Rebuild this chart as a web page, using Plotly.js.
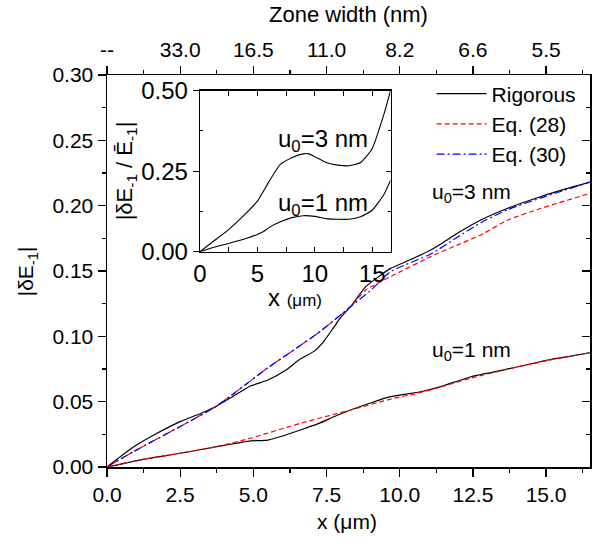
<!DOCTYPE html>
<html>
<head>
<meta charset="utf-8">
<script src="https://cdn.plot.ly/plotly-3.0.1.min.js"></script>
<style>html,body{margin:0;padding:0;background:#fff;}#plot{width:601px;height:546px;}</style>
</head>
<body>
<div id="plot"></div>
<script>
// ---- Main panel data (x in µm, |δE-1|) ----
const rig3X = [0, 0.9, 1.6, 2.5, 3.2, 3.75, 4.3, 4.9, 5.5, 6.1, 6.6, 7.07, 7.4, 7.75, 8.0, 8.32, 8.84, 9.69, 10.3, 11.06, 11.5, 11.98, 12.77, 13.69, 14.83, 15.7, 16.5];
const rig3Y = [0, 0.0153, 0.0245, 0.0347, 0.041, 0.0467, 0.054, 0.062, 0.0666, 0.074, 0.0826, 0.0885, 0.096, 0.107, 0.115, 0.1227, 0.138, 0.152, 0.158, 0.166, 0.172, 0.179, 0.189, 0.198, 0.207, 0.213, 0.218];
const eq30_3X = [0, 0.9, 2.5, 3.75, 5.47, 7.18, 8.32, 9.0, 9.69, 11.06, 11.98, 12.77, 13.69, 14.83, 16.5];
const eq30_3Y = [0, 0.0117, 0.031, 0.0467, 0.0755, 0.102, 0.1227, 0.135, 0.1495, 0.163, 0.176, 0.187, 0.197, 0.206, 0.218];
const eq28_3X = [0, 0.9, 2.5, 3.75, 5.47, 7.18, 8.32, 8.84, 9.69, 11.06, 11.98, 12.77, 13.69, 14.83, 16.5];
const eq28_3Y = [0, 0.0117, 0.031, 0.0467, 0.0755, 0.102, 0.1227, 0.1355, 0.1457, 0.161, 0.170, 0.1776, 0.189, 0.198, 0.2094];
const rig1X = [0, 1.24, 2.5, 3.75, 4.5, 4.9, 5.2, 5.5, 6.0, 6.6, 7.2, 7.75, 8.32, 9.0, 9.69, 10.72, 11.4, 12.43, 13.8, 15.06, 16.26, 16.5];
const rig1Y = [0, 0.0059, 0.0105, 0.0156, 0.0185, 0.0200, 0.0202, 0.0206, 0.0237, 0.0283, 0.033, 0.0385, 0.0436, 0.049, 0.0538, 0.0576, 0.0615, 0.0691, 0.0755, 0.0819, 0.0865, 0.0875];
const eq28_1X = [0, 1.24, 2.5, 3.75, 4.9, 6.6, 8.32, 9.69, 10.72, 12.43, 13.8, 15.06, 16.5];
const eq28_1Y = [0, 0.0059, 0.0105, 0.0156, 0.022, 0.0334, 0.0436, 0.052, 0.057, 0.068, 0.0755, 0.0815, 0.0875];

// ---- Inset data (|δE-1 / Ē-1|) ----
const in3X = [0, 1, 2.5, 4, 5, 6, 7, 8, 9, 9.5, 10, 11, 12, 13, 14, 15, 16, 16.6];
const in3Y = [0, 0.028, 0.069, 0.119, 0.157, 0.217, 0.271, 0.292, 0.304, 0.304, 0.295, 0.277, 0.269, 0.267, 0.277, 0.32, 0.424, 0.5];
const in1X = [0, 1, 2.5, 4, 5, 5.5, 6, 7, 8, 9, 10, 11, 12, 13, 14, 15, 16, 16.6];
const in1Y = [0, 0.012, 0.026, 0.041, 0.054, 0.062, 0.075, 0.093, 0.106, 0.112, 0.110, 0.103, 0.101, 0.101, 0.109, 0.129, 0.176, 0.222];

// ---- Tick labels ----
const mainXTicks = [0, 2.5, 5, 7.5, 10, 12.5, 15];
const mainXTickText = ['0.0', '2.5', '5.0', '7.5', '10.0', '12.5', '15.0'];
const zoneTickText = ['--', '33.0', '16.5', '11.0', '8.2', '6.6', '5.5'];
const mainYTicks = [0, 0.05, 0.10, 0.15, 0.20, 0.25, 0.30];
const mainYTickText = ['0.00', '0.05', '0.10', '0.15', '0.20', '0.25', '0.30'];
const insetXTicks = [0, 5, 10, 15];
const insetXTickText = ['0', '5', '10', '15'];
const insetYTicks = [0, 0.25, 0.5];
const insetYTickText = ['0.00', '0.25', '0.50'];

const FONT = 'Liberation Sans, Arial, sans-serif';
const RED_DASH = '5px,3px';
const BLUE_DASHDOT = '8px,3px,2px,3px';
const SM = 0.5;

const traces = [
  {x: rig3X, y: rig3Y, mode: 'lines', name: 'Rigorous', line: {color: 'black', width: 1.2, shape: 'spline', smoothing: SM}, hoverinfo: 'skip'},
  {x: eq28_3X, y: eq28_3Y, mode: 'lines', name: 'Eq. (28)', line: {color: '#ff0000', width: 1.2, dash: RED_DASH, shape: 'spline', smoothing: SM}, hoverinfo: 'skip'},
  {x: eq30_3X, y: eq30_3Y, mode: 'lines', name: 'Eq. (30)', line: {color: '#0000ff', width: 1.2, dash: BLUE_DASHDOT, shape: 'spline', smoothing: SM}, hoverinfo: 'skip'},
  {x: rig1X, y: rig1Y, mode: 'lines', showlegend: false, line: {color: 'black', width: 1.2, shape: 'spline', smoothing: SM}, hoverinfo: 'skip'},
  {x: eq28_1X, y: eq28_1Y, mode: 'lines', showlegend: false, line: {color: '#ff0000', width: 1.2, dash: RED_DASH, shape: 'spline', smoothing: SM}, hoverinfo: 'skip'},
  {x: in3X, y: in3Y, xaxis: 'x2', yaxis: 'y2', mode: 'lines', showlegend: false, line: {color: 'black', width: 1.1, shape: 'spline', smoothing: SM}, hoverinfo: 'skip'},
  {x: in1X, y: in1Y, xaxis: 'x2', yaxis: 'y2', mode: 'lines', showlegend: false, line: {color: 'black', width: 1.1, shape: 'spline', smoothing: SM}, hoverinfo: 'skip'},
  {x: [null], y: [null], xaxis: 'x3', yaxis: 'y', mode: 'lines', showlegend: false, hoverinfo: 'skip'},
  {x: [null], y: [null], xaxis: 'x', yaxis: 'y3', mode: 'lines', showlegend: false, hoverinfo: 'skip'},
  {x: [null], y: [null], xaxis: 'x2', yaxis: 'y4', mode: 'lines', showlegend: false, hoverinfo: 'skip'}
];

const axFont = {family: FONT, size: 21, color: 'black'};
const inFont = {family: FONT, size: 24, color: 'black'};

const layout = {
  width: 601, height: 546,
  margin: {l: 107, r: 11, t: 75, b: 79},
  paper_bgcolor: 'white', plot_bgcolor: 'white',
  font: {family: FONT, size: 21, color: 'black'},
  showlegend: true,
  legend: {x: 0.672, y: 1.004, xanchor: 'left', yanchor: 'top', bgcolor: 'rgba(0,0,0,0)', font: {family: FONT, size: 21, color: 'black'}, tracegroupgap: 0, itemwidth: 50},
  xaxis: {
    range: [0, 16.5], showgrid: false, zeroline: false, showline: true, linecolor: 'black', linewidth: 1.5,
    tickmode: 'array', tickvals: mainXTicks, ticktext: mainXTickText,
    ticks: 'outside', ticklen: 8, tickwidth: 1.2, tickcolor: 'black', tickfont: axFont,
    minor: {tickmode: 'linear', tick0: 1.25, dtick: 2.5, ticks: 'outside', ticklen: 4, tickwidth: 1.2, tickcolor: 'black', showgrid: false},
    fixedrange: true
  },
  yaxis: {
    range: [0, 0.30], showgrid: false, zeroline: false, showline: true, linecolor: 'black', linewidth: 1.5,
    tickmode: 'array', tickvals: mainYTicks, ticktext: mainYTickText,
    ticks: 'outside', ticklen: 8, tickwidth: 1.2, tickcolor: 'black', tickfont: axFont,
    minor: {tickmode: 'linear', tick0: 0.025, dtick: 0.05, ticks: 'outside', ticklen: 4, tickwidth: 1.2, tickcolor: 'black', showgrid: false},
    fixedrange: true
  },
  xaxis3: {
    overlaying: 'x', side: 'top', anchor: 'y', range: [0, 16.5], showgrid: false, zeroline: false,
    showline: true, linecolor: 'black', linewidth: 1.5,
    tickmode: 'array', tickvals: mainXTicks, ticktext: zoneTickText,
    ticks: 'outside', ticklen: 8, tickwidth: 1.2, tickcolor: 'black', tickfont: axFont,
    minor: {tickmode: 'linear', tick0: 1.25, dtick: 2.5, ticks: 'outside', ticklen: 4, tickwidth: 1.2, tickcolor: 'black', showgrid: false},
    fixedrange: true
  },
  yaxis3: {
    overlaying: 'y', side: 'right', anchor: 'x', range: [0, 0.30], showgrid: false, zeroline: false,
    showline: true, linecolor: 'black', linewidth: 1.5, showticklabels: false,
    tickmode: 'array', tickvals: mainYTicks,
    ticks: 'inside', ticklen: 8, tickwidth: 1.2, tickcolor: 'black',
    minor: {tickmode: 'linear', tick0: 0.025, dtick: 0.05, ticks: 'inside', ticklen: 4, tickwidth: 1.2, tickcolor: 'black', showgrid: false},
    fixedrange: true
  },
  xaxis2: {
    domain: [0.1925, 0.587], anchor: 'y2', range: [0, 16.6], showgrid: false, zeroline: false,
    showline: true, mirror: 'allticks', linecolor: 'black', linewidth: 1.2,
    tickmode: 'array', tickvals: insetXTicks, ticktext: insetXTickText,
    ticks: 'inside', ticklen: 5, tickwidth: 1, tickcolor: 'black', tickfont: inFont,
    minor: {tickmode: 'linear', tick0: 2.5, dtick: 5, ticks: 'inside', ticklen: 3, tickwidth: 1, tickcolor: 'black', showgrid: false},
    fixedrange: true
  },
  yaxis2: {
    domain: [0.549, 0.96], anchor: 'x2', range: [0, 0.5], showgrid: false, zeroline: false,
    showline: true, linecolor: 'black', linewidth: 1.2,
    tickmode: 'array', tickvals: insetYTicks, ticktext: insetYTickText,
    ticks: 'outside', ticklen: 6, tickwidth: 1, tickcolor: 'black', tickfont: inFont,
    minor: {tickmode: 'linear', tick0: 0.125, dtick: 0.25, ticks: 'inside', ticklen: 3, tickwidth: 1, tickcolor: 'black', showgrid: false},
    fixedrange: true
  },
  yaxis4: {
    overlaying: 'y2', side: 'right', anchor: 'x2', range: [0, 0.5], showgrid: false, zeroline: false,
    showline: true, linecolor: 'black', linewidth: 1.2, showticklabels: false,
    tickmode: 'array', tickvals: insetYTicks,
    ticks: 'inside', ticklen: 5, tickwidth: 1, tickcolor: 'black',
    minor: {tickmode: 'linear', tick0: 0.125, dtick: 0.25, ticks: 'inside', ticklen: 3, tickwidth: 1, tickcolor: 'black', showgrid: false},
    fixedrange: true
  },
  annotations: [
    {xref: 'paper', yref: 'paper', x: 0.5, y: 1.155, text: 'Zone width (nm)', showarrow: false, xanchor: 'center', yanchor: 'middle', font: {family: FONT, size: 22}},
    {xref: 'paper', yref: 'paper', x: 0.496, y: -0.140, text: 'x (μm)', showarrow: false, xanchor: 'center', yanchor: 'middle', font: {family: FONT, size: 21}},
    {xref: 'paper', yref: 'paper', x: -0.165, y: 0.5, text: '|δE<sub>-1</sub>|', textangle: -90, showarrow: false, xanchor: 'center', yanchor: 'middle', font: {family: FONT, size: 21}},
    {xref: 'paper', yref: 'paper', x: 0.04, y: 0.755, text: '|δE<sub>-1</sub> / Ē<sub>-1</sub>|', textangle: -90, showarrow: false, xanchor: 'center', yanchor: 'middle', font: {family: FONT, size: 22}},
    {xref: 'paper', yref: 'paper', x: 0.39, y: 0.432, text: 'x <span style="font-size:17px">(μm)</span>', showarrow: false, xanchor: 'center', yanchor: 'middle', font: {family: FONT, size: 24}},
    {xref: 'x', yref: 'y', x: 12.46, y: 0.210, text: 'u<sub>0</sub>=3 nm', showarrow: false, xanchor: 'center', yanchor: 'middle', font: {family: FONT, size: 21}},
    {xref: 'x', yref: 'y', x: 12.46, y: 0.089, text: 'u<sub>0</sub>=1 nm', showarrow: false, xanchor: 'center', yanchor: 'middle', font: {family: FONT, size: 21}},
    {xref: 'x2', yref: 'y2', x: 10.69, y: 0.345, text: 'u<sub>0</sub>=3 nm', showarrow: false, xanchor: 'center', yanchor: 'middle', font: {family: FONT, size: 24}},
    {xref: 'x2', yref: 'y2', x: 10.69, y: 0.148, text: 'u<sub>0</sub>=1 nm', showarrow: false, xanchor: 'center', yanchor: 'middle', font: {family: FONT, size: 24}}
  ]
};

Plotly.newPlot('plot', traces, layout, {staticPlot: true, displayModeBar: false});
</script>
</body>
</html>
